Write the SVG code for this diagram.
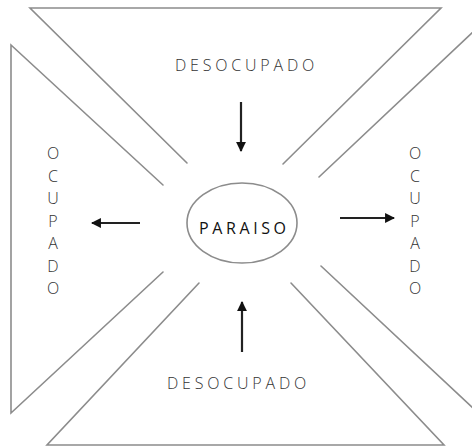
<svg xmlns="http://www.w3.org/2000/svg" width="472" height="447" viewBox="0 0 472 447">
<style>
.edge{fill:none;stroke:#8c8c8c;stroke-width:1.6;stroke-linecap:round;stroke-linejoin:miter}
.lbl{font-family:"Open Sans","Liberation Sans",sans-serif;font-weight:300;font-size:16px;fill:#333;letter-spacing:3.8px}
.vl{font-family:"Open Sans","Liberation Sans",sans-serif;font-weight:300;font-size:16px;fill:#333;text-anchor:middle}
.main{font-family:"Open Sans","Liberation Sans",sans-serif;font-weight:400;font-size:16px;fill:#111;letter-spacing:3.6px}
.arr{stroke:#222;stroke-width:2.2;fill:none;marker-end:url(#ah)}
</style>
<defs>
<marker id="ah" viewBox="0 0 10 10" refX="9" refY="5" markerWidth="4.5" markerHeight="4.5" orient="auto" markerUnits="strokeWidth">
<path d="M0,0 L10,5 L0,10 z" fill="#111"/>
</marker>
</defs>
<rect width="472" height="447" fill="#fff"/>
<g id="top-zone">
<polyline class="edge" points="187,163 30,8 441,8 283,164"/>
<text class="lbl" x="175" y="70.5">DESOCUPADO</text>
</g>
<g id="left-zone">
<polyline class="edge" points="163,185 11,45 11,413 163,272"/>
<text class="vl" x="53" y="159">O</text>
<text class="vl" x="53" y="181.5">C</text>
<text class="vl" x="53" y="204">U</text>
<text class="vl" x="53" y="226.5">P</text>
<text class="vl" x="53" y="249">A</text>
<text class="vl" x="53" y="271.5">D</text>
<text class="vl" x="53" y="294">O</text>
</g>
<g id="right-zone">
<polyline class="edge" points="319,177 474,31"/>
<polyline class="edge" points="321,266 474,409"/>
<text class="vl" x="415" y="159">O</text>
<text class="vl" x="415" y="181.5">C</text>
<text class="vl" x="415" y="204">U</text>
<text class="vl" x="415" y="226.5">P</text>
<text class="vl" x="415" y="249">A</text>
<text class="vl" x="415" y="271.5">D</text>
<text class="vl" x="415" y="294">O</text>
</g>
<g id="bottom-zone">
<polyline class="edge" points="199,283 47,445 444,445 291,283"/>
<text class="lbl" x="167" y="388.5">DESOCUPADO</text>
</g>
<g id="paraiso">
<ellipse cx="242" cy="223" rx="55" ry="40" fill="#fff" stroke="#8c8c8c" stroke-width="1.6"/>
<text class="main" x="199" y="234">PARAISO</text>
</g>
<g id="connectors">
<line class="arr" x1="241" y1="102" x2="241" y2="151"/>
<line class="arr" x1="242" y1="352" x2="242" y2="302"/>
<line class="arr" x1="140" y1="223" x2="92" y2="223"/>
<line class="arr" x1="340" y1="218" x2="394" y2="218"/>
</g>
</svg>
